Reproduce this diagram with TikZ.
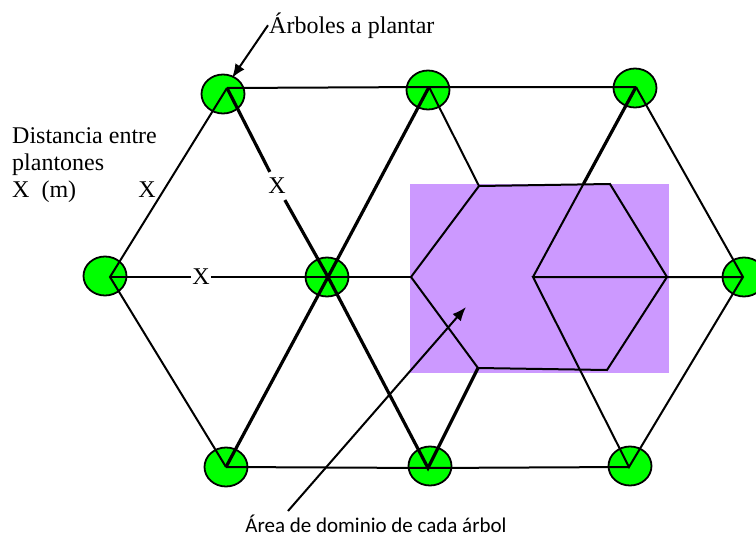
\documentclass[tikz,border=0pt]{standalone}
\usepackage{fontspec}
\setmainfont{Liberation Serif}
\newfontfamily\calfont{Carlito}
\usetikzlibrary{shapes.geometric,arrows.meta,calc}
\definecolor{areafill}{RGB}{204,153,255}
\tikzset{
  tree/.style={ellipse, draw, fill=green, line width=1.8pt, minimum width=43pt, minimum height=39pt, inner sep=0pt},
  thin/.style={line width=2pt},
  thick/.style={line width=3.2pt},
  xlab/.style={fill=white, inner sep=1pt, font=\fontsize{24}{27}\selectfont},
  pointer/.style={line width=2pt, -{Latex[length=14pt,width=11pt]}}
}
\begin{document}
\begin{tikzpicture}[x=1pt, y=-1pt]
  \useasboundingbox (0,0) rectangle (756,538);
  % area of one tree
  \fill[areafill] (410,184) rectangle (669,373);
  % trees
  \node[tree] (t1) at (223,94) {};
  \node[tree] (t2) at (428,90) {};
  \node[tree] (t3) at (635,88) {};
  \node[tree] (t4) at (105,276) {};
  \node[tree] (t5) at (327,277) {};
  \node[tree] (t6) at (744,277) {};
  \node[tree] (t7) at (226,467) {};
  \node[tree] (t8) at (430,466) {};
  \node[tree] (t9) at (630,466) {};
  % line corners
  \coordinate (v1) at (227,88);
  \coordinate (v2) at (429,87);
  \coordinate (v3) at (636,87);
  \coordinate (v4) at (110,277);
  \coordinate (v5) at (328,277);
  \coordinate (v6) at (743,277);
  \coordinate (v7) at (226,467);
  \coordinate (v8) at (428,468);
  \coordinate (v9) at (629,467);
  % hexagon
  \coordinate (h1) at (411,277);
  \coordinate (h2) at (479,186);
  \coordinate (h3) at (610,184);
  \coordinate (h4) at (667,277);
  \coordinate (h5) at (607,370);
  \coordinate (h6) at (478,368);
  \coordinate (c) at (533,277);
  % labels on the sides
  \node[xlab, inner ysep=6pt] (x2) at (277,186) {X};
  \node[xlab] (x3) at (201,277) {X};
  \draw[thin] (v1) -- (v2) -- (v3);
  \draw[thin] (v7) -- (v8) -- (v9);
  \draw[thin] (v1) -- (v4) -- (v7);
  \draw[thin] (v2) -- (h2);
  \draw[thin] (v3) -- (v6) -- (v9) -- (c) -- (v6);
  \draw[thin] (h1) -- (h2) -- (h3) -- (h4) -- (h5) -- (h6) -- cycle;
  \draw[line width=2.5pt] (v4) -- (x3) -- (v5) -- (h1);
  \draw[thin] (v3) -- (c);
  \draw[thick] (v3) -- ($(v3)!0.51!(c)$);
  \draw[thick] (v1) -- (x2) -- (v5);
  \draw[thick] (v2) -- (v5) -- (v7);
  \draw[thick] (v5) -- (v8) -- (h6);
  \node[xlab] (x1) at (147,190) {X};
  % texts
  \node[anchor=north west, inner sep=0pt, align=left, font=\fontsize{24}{27}\selectfont] (dist) at (12,127)
    {Distancia entre\\plantones\\X\ \ (m)};
  \node[anchor=base west, inner sep=1pt, font=\fontsize{24}{27}\selectfont] (lab1) at (268,33) {Árboles a plantar};
  \coordinate (a1) at (232,78);
  \draw[pointer] (lab1.west) -- (a1);
  \node[anchor=base, inner sep=0pt, font=\calfont\fontsize{21}{24}\selectfont] (lab2) at (376,532) {Área de dominio de cada árbol};
  \coordinate (s2) at (288,511);
  \coordinate (a2) at (466,307);
  \draw[pointer] (s2) -- (a2);
\end{tikzpicture}
\end{document}
